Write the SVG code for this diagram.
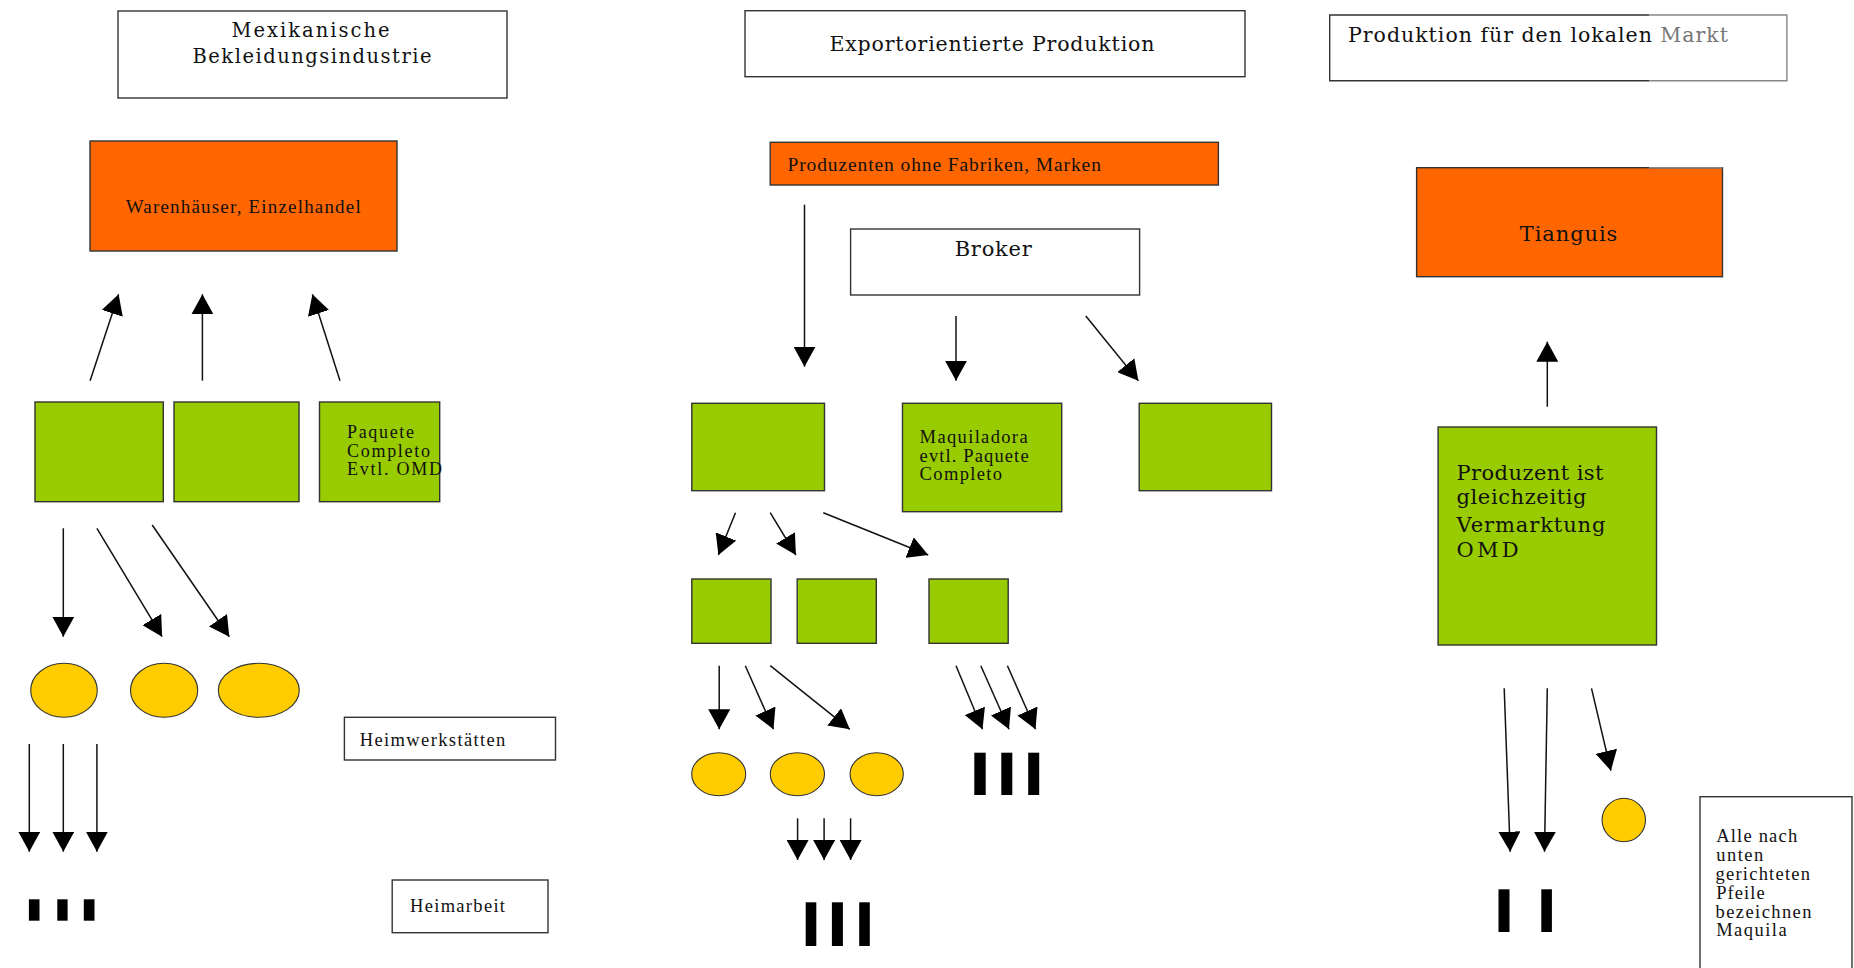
<svg xmlns="http://www.w3.org/2000/svg" width="1854" height="968" viewBox="0 0 1854 968">
<style>
.box{fill:#fff;stroke:#333;stroke-width:1.4}
.org{fill:#ff6600;stroke:#333;stroke-width:1.4}
.grn{fill:#99cc00;stroke:#333;stroke-width:1.4}
.yel{fill:#ffcc00;stroke:#333;stroke-width:1.1}
.bar{fill:#000}
.dj{font-family:"DejaVu Serif",serif;fill:#111}
.lb{font-family:"Liberation Serif",serif;fill:#111}
.con line{stroke:#111;stroke-width:1.5;marker-end:url(#ah)}
</style>
<defs>
<marker id="ah" markerUnits="userSpaceOnUse" viewBox="0 0 20 22" markerWidth="20" markerHeight="22" refX="20" refY="11" orient="auto"><path d="M0,0 L20,11 L0,22 z" fill="#000"/></marker>
</defs>
<rect width="1854" height="968" fill="#fff"/>

<!-- Left column -->
<g id="title-mex">
<rect class="box" x="118" y="11" width="389" height="87"/>
<text class="dj" font-size="19.5" x="310.5" y="36.7" text-anchor="middle" textLength="158">Mexikanische</text>
<text class="dj" font-size="19.5" x="312" y="63" text-anchor="middle" textLength="239">Bekleidungsindustrie</text>
</g>
<g id="warenhaeuser">
<rect class="org" x="90" y="141" width="307" height="110"/>
<text class="lb" font-size="19" x="125.7" y="213" textLength="235">Warenhäuser, Einzelhandel</text>
</g>
<g id="l-g1"><rect class="grn" x="35" y="402" width="128.3" height="99.7"/></g>
<g id="l-g2"><rect class="grn" x="174" y="402" width="125" height="99.7"/></g>
<g id="l-g3">
<rect class="grn" x="319.5" y="402" width="120.2" height="99.7"/>
<text class="lb" font-size="18" x="347" y="437.7" textLength="67">Paquete</text>
<text class="lb" font-size="18" x="347" y="456.7" textLength="83">Completo</text>
<text class="lb" font-size="18" x="347" y="475.3" textLength="95">Evtl. OMD</text>
</g>
<g id="l-e1"><ellipse class="yel" cx="64" cy="690.3" rx="33.3" ry="27"/></g>
<g id="l-e2"><ellipse class="yel" cx="164.1" cy="690.3" rx="33.6" ry="27"/></g>
<g id="l-e3"><ellipse class="yel" cx="258.8" cy="690.3" rx="40.5" ry="27"/></g>
<g id="l-bars">
<rect class="bar" x="28.9" y="899.3" width="10.6" height="21.4"/>
<rect class="bar" x="57.3" y="899.3" width="10.3" height="21.4"/>
<rect class="bar" x="83.8" y="899.3" width="10.7" height="21.4"/>
</g>
<g id="heimwerkstaetten">
<rect class="box" x="344.4" y="717.3" width="211.1" height="42.7"/>
<text class="lb" font-size="18.5" x="359.8" y="745.5" textLength="145.5">Heimwerkstätten</text>
</g>
<g id="heimarbeit">
<rect class="box" x="392.2" y="880" width="155.8" height="52.7"/>
<text class="lb" font-size="18.5" x="410" y="912.3" textLength="95">Heimarbeit</text>
</g>

<!-- Middle column -->
<g id="title-export">
<rect class="box" x="745" y="10.7" width="500" height="66"/>
<text class="dj" font-size="20.5" x="829.4" y="50.7" textLength="325">Exportorientierte Produktion</text>
</g>
<g id="produzenten">
<rect class="org" x="770.2" y="142.3" width="448.2" height="42.7"/>
<text class="lb" font-size="19.5" x="787.4" y="170.5" textLength="313.5">Produzenten ohne Fabriken, Marken</text>
</g>
<g id="broker">
<rect class="box" x="850.6" y="229" width="289" height="66"/>
<text class="dj" font-size="21" x="954.7" y="256" textLength="77">Broker</text>
</g>
<g id="m-g1"><rect class="grn" x="691.8" y="403.3" width="132.7" height="87.4"/></g>
<g id="maquiladora">
<rect class="grn" x="902.5" y="403.3" width="159.2" height="108.4"/>
<text class="lb" font-size="18.5" x="919.6" y="443.3" textLength="108">Maquiladora</text>
<text class="lb" font-size="18.5" x="919.6" y="462.3" textLength="109">evtl. Paquete</text>
<text class="lb" font-size="18.5" x="919.6" y="480.3" textLength="82.5">Completo</text>
</g>
<g id="m-g3"><rect class="grn" x="1139.2" y="403.3" width="132.3" height="87.4"/></g>
<g id="m-s1"><rect class="grn" x="691.8" y="579" width="79.2" height="64.3"/></g>
<g id="m-s2"><rect class="grn" x="797.2" y="579" width="79.1" height="64.3"/></g>
<g id="m-s3"><rect class="grn" x="929" y="579" width="79.2" height="64.3"/></g>
<g id="m-e1"><ellipse class="yel" cx="718.7" cy="774.2" rx="27" ry="21.5"/></g>
<g id="m-e2"><ellipse class="yel" cx="797.4" cy="774.2" rx="27.1" ry="21.5"/></g>
<g id="m-e3"><ellipse class="yel" cx="876.7" cy="774.2" rx="26.6" ry="21.5"/></g>
<g id="m-bars-right">
<rect class="bar" x="974.3" y="752.7" width="11.4" height="42.3"/>
<rect class="bar" x="1001.3" y="752.7" width="11" height="42.3"/>
<rect class="bar" x="1028.2" y="752.7" width="11" height="42.3"/>
</g>
<g id="m-bars-bottom">
<rect class="bar" x="805.7" y="902.3" width="10.6" height="43.7"/>
<rect class="bar" x="831.9" y="902.3" width="11" height="43.7"/>
<rect class="bar" x="859.2" y="902.3" width="10.6" height="43.7"/>
</g>

<!-- Right column -->
<g id="title-lokal">
<rect x="1329.7" y="15" width="457.2" height="65.7" fill="#fff" stroke="none"/>
<path d="M1649,15 H1329.7 V80.7 H1649" fill="none" stroke="#333" stroke-width="1.4"/>
<path d="M1649,15 H1786.9 V80.7 H1649" fill="none" stroke="#888" stroke-width="1.4"/>
<text class="dj" font-size="20.5" x="1348" y="41.7" textLength="380">Produktion für den lokalen <tspan fill="#777">Markt</tspan></text>
</g>
<g id="tianguis">
<rect class="org" x="1416.6" y="167.7" width="305.9" height="109"/>
<path d="M1649,167.7 H1722.5" stroke="#888" stroke-width="1.4"/>
<text class="dj" font-size="21" x="1519.8" y="240.7" textLength="97.5">Tianguis</text>
</g>
<g id="produzent">
<rect class="grn" x="1438.1" y="427" width="218.4" height="218"/>
<text class="dj" font-size="21" x="1456.5" y="480" textLength="147">Produzent ist</text>
<text class="dj" font-size="21" x="1456.5" y="504" textLength="130">gleichzeitig</text>
<text class="dj" font-size="21" x="1456.5" y="532.3" textLength="149">Vermarktung</text>
<text class="dj" font-size="21" x="1456.5" y="556.7" textLength="62">OMD</text>
</g>
<g id="r-e1"><ellipse class="yel" cx="1623.8" cy="820" rx="21.7" ry="21.7"/></g>
<g id="r-bars">
<rect class="bar" x="1498.5" y="889.3" width="11" height="42.7"/>
<rect class="bar" x="1541.3" y="889.3" width="10.6" height="42.7"/>
</g>
<g id="legende">
<rect class="box" x="1700" y="796.7" width="152" height="190"/>
<text class="lb" font-size="18.5" x="1716.2" y="842.3" textLength="81">Alle nach</text>
<text class="lb" font-size="18.5" x="1716.2" y="860.7" textLength="47">unten</text>
<text class="lb" font-size="18.5" x="1715.5" y="879.5" textLength="94.5">gerichteten</text>
<text class="lb" font-size="18.5" x="1716.2" y="898.7" textLength="48.5">Pfeile</text>
<text class="lb" font-size="18.5" x="1715.5" y="917.5" textLength="96">bezeichnen</text>
<text class="lb" font-size="18.5" x="1716.2" y="936" textLength="70.5">Maquila</text>
</g>

<g id="connectors" class="con">
<line x1="90.1" y1="380.7" x2="118.6" y2="294.3"/>
<line x1="202.4" y1="380.7" x2="202.4" y2="294.3"/>
<line x1="340" y1="380.7" x2="312.4" y2="294.3"/>
<line x1="63.3" y1="528.3" x2="63.3" y2="636.7"/>
<line x1="96.9" y1="528.3" x2="162.1" y2="636.7"/>
<line x1="152.2" y1="525" x2="229.3" y2="636.7"/>
<line x1="29.3" y1="744" x2="29.3" y2="851.7"/>
<line x1="63.3" y1="744" x2="63.3" y2="851.7"/>
<line x1="96.9" y1="744" x2="96.9" y2="851.7"/>
<line x1="804.5" y1="204.7" x2="804.5" y2="366.7"/>
<line x1="956" y1="316" x2="956" y2="380.7"/>
<line x1="1085.8" y1="316" x2="1138.4" y2="380.7"/>
<line x1="735.5" y1="512.7" x2="718.4" y2="555"/>
<line x1="770.2" y1="512.7" x2="795.9" y2="555"/>
<line x1="823.3" y1="512.7" x2="928.2" y2="555"/>
<line x1="719.2" y1="665.7" x2="719.2" y2="729.3"/>
<line x1="745.3" y1="665.7" x2="773.5" y2="729.3"/>
<line x1="770.2" y1="665.7" x2="849.8" y2="729.3"/>
<line x1="956" y1="665.7" x2="982.5" y2="729.3"/>
<line x1="980.8" y1="665.7" x2="1009" y2="729.3"/>
<line x1="1007.4" y1="665.7" x2="1035.5" y2="729.3"/>
<line x1="797.6" y1="818.3" x2="797.6" y2="860"/>
<line x1="824.1" y1="818.3" x2="824.1" y2="860"/>
<line x1="850.6" y1="818.3" x2="850.6" y2="860"/>
<line x1="1547.3" y1="406.7" x2="1547.3" y2="341.7"/>
<line x1="1504.2" y1="688.3" x2="1510.2" y2="851.7"/>
<line x1="1547.3" y1="688.3" x2="1544.5" y2="851.7"/>
<line x1="1591.5" y1="688.3" x2="1610.9" y2="770.7"/>
</g>
</svg>
